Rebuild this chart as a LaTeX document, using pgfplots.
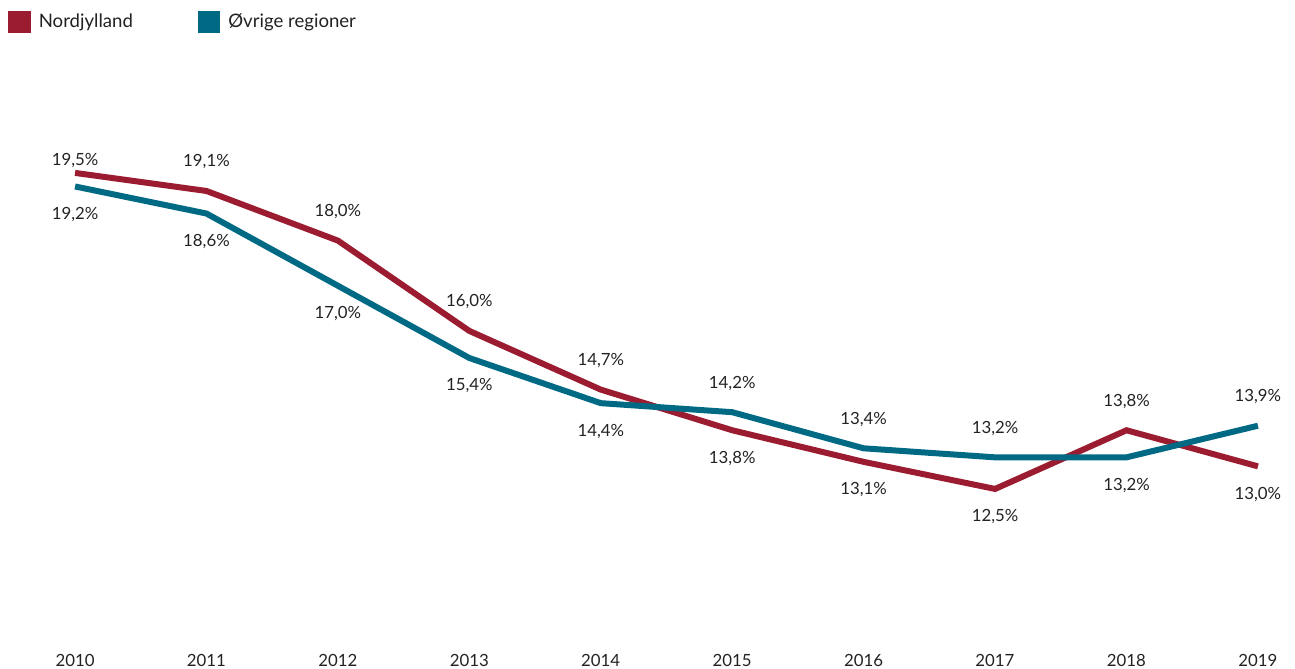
\documentclass[border=0pt]{standalone}
\usepackage{pgfplots}
\pgfplotsset{compat=1.18}
\usepackage{fontspec}
\setmainfont{Lato}
\definecolor{nord}{HTML}{9B1C31}
\definecolor{ovr}{HTML}{006A84}
\definecolor{txt}{HTML}{222222}

\pgfplotsset{
  lbl/.style={draw=none, forget plot, point meta=y,
    nodes near coords={\pgfmathprintnumber[fixed, fixed zerofill, precision=1, use comma, assume math mode=true]{\pgfplotspointmeta}\%},
    every node near coord/.style={anchor=center, text=txt, font=\fontsize{8.4}{10}\selectfont, yshift=#1}},
}

\begin{document}
\begin{tikzpicture}
\begin{axis}[
  scale only axis, width=647.5pt, height=334.5pt,
  xmin=2009.429, xmax=2019.282, ymin=8.512, ymax=23.33,
  clip=false,
  axis line style={draw=none},
  ytick=\empty,
  xtick={2010,...,2019},
  major tick length=0pt,
  xticklabel style={font=\fontsize{8.4}{10}\selectfont, text=txt, anchor=base, yshift=1pt,
    /pgf/number format/1000 sep=, /pgf/number format/assume math mode=true},
  legend style={at={(0,1)}, anchor=north west, xshift=4pt, yshift=-4.5pt, draw=none, fill=none,
    font=\fontsize{9.3}{11}\selectfont, text=txt, legend columns=2, inner sep=0pt,
    /tikz/every odd column/.append style={column sep=2pt},
    /tikz/every even column/.append style={column sep=30.5pt}},
  legend cell align=left,
  legend image code/.code={\fill[#1, draw=none] (0pt,-5.6pt) rectangle (11.2pt,5.6pt);},
]
\addplot[nord, line width=3pt] coordinates {(2010,19.5)(2011,19.1)(2012,18.0)(2013,16.0)(2014,14.7)(2015,13.8)(2016,13.1)(2017,12.5)(2018,13.8)(2019,13.0)};
\addlegendentry{Nordjylland}
\addplot[ovr, line width=3pt] coordinates {(2010,19.2)(2011,18.6)(2012,17.0)(2013,15.4)(2014,14.4)(2015,14.2)(2016,13.4)(2017,13.2)(2018,13.2)(2019,13.9)};
\addlegendentry{Øvrige regioner}
% labels above
\addplot[lbl=6pt] coordinates {(2010,19.5)};
\addplot[lbl=14.5pt] coordinates {(2011,19.1)(2012,18.0)(2013,16.0)(2014,14.7)(2018,13.8)};
\addplot[lbl=14.5pt] coordinates {(2015,14.2)(2016,13.4)(2017,13.2)(2019,13.9)};
% labels below
\addplot[lbl=-14pt] coordinates {(2015,13.8)(2016,13.1)(2017,12.5)(2019,13.0)};
\addplot[lbl=-14pt] coordinates {(2010,19.2)(2011,18.6)(2012,17.0)(2013,15.4)(2014,14.4)(2018,13.2)};
\end{axis}
\pgfresetboundingbox
\path[use as bounding box] (current axis.south west) rectangle (current axis.north east);
\end{tikzpicture}
\end{document}
